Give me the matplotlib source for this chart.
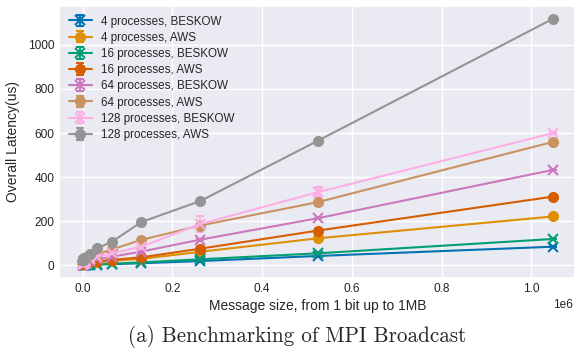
import numpy as np
import matplotlib
matplotlib.use("Agg")
import matplotlib.pyplot as plt
import seaborn as sns

# message sizes 1 .. 1048576 (powers of two)
sizes = [2 ** i for i in range(21)]

labels = ["4 processes, BESKOW", "4 processes, AWS",
          "16 processes, BESKOW", "16 processes, AWS",
          "64 processes, BESKOW", "64 processes, AWS",
          "128 processes, BESKOW", "128 processes, AWS"]
markers = ["x", "o", "x", "o", "x", "o", "x", "o"]

beskow_4 = [1, 1, 1, 1, 1, 1, 1, 1.5, 1.5, 1.5, 2, 2, 2, 2.5, 3, 4, 6, 10, 20, 43, 85]
aws_4 = [5, 5, 5, 5, 5, 5, 5.5, 5.5, 6, 6, 6.5, 7, 8, 9, 11, 15, 21, 30, 62, 123, 222]
beskow_16 = [2, 2, 2, 2, 2, 2, 2, 2, 2.5, 2.5, 2.5, 3, 3, 4, 5, 6, 8, 14, 28, 55, 120]
aws_16 = [8, 8, 8, 8, 8, 8, 8.5, 8.5, 9, 9, 9.5, 10, 11, 12, 14, 18, 25, 37, 76, 158, 312]
beskow_64 = [4, 4, 4, 4, 4, 4, 4.5, 4.5, 5, 5, 5.5, 6, 8, 12, 20, 28, 40, 63, 117, 214, 433]
aws_64 = [15, 15, 15, 15, 15, 15, 16, 16, 16, 17, 17, 18, 20, 25, 35, 51, 73, 116, 181, 287, 560]
beskow_128 = [6, 6, 6, 6, 6, 6, 6.5, 7, 7, 8, 8, 9, 12, 18, 30, 40, 55, 85, 188, 332, 600]
aws_128 = [25, 25, 25, 26, 26, 26, 27, 27, 28, 29, 30, 32, 35, 40, 50, 78, 108, 197, 292, 565, 1118]

err_small = [1] * 21
err_beskow_128 = [1] * 17 + [4, 37, 23, 5]

series = [beskow_4, aws_4, beskow_16, aws_16, beskow_64, aws_64, beskow_128, aws_128]
errors = [err_small] * 6 + [err_beskow_128, err_small]

sns.set_theme(style="darkgrid", palette="colorblind")
plt.rcParams["font.family"] = ["Liberation Sans", "DejaVu Sans"]

fig = plt.figure(figsize=(5.74, 3.52), dpi=100)
ax = fig.add_axes([59.2 / 574, 1 - 277.8 / 352, 517.3 / 574, 271.6 / 352])

colors = sns.color_palette("colorblind")
for i, (vals, err) in enumerate(zip(series, errors)):
    ax.errorbar(sizes, vals, yerr=err, label=labels[i], color=colors[i],
                marker=markers[i], markersize=6.5, markeredgewidth=1.5,
                linewidth=1.5, capsize=3)

ax.tick_params(labelsize=8.6, length=0, pad=3.5)
offset = ax.xaxis.get_offset_text()
offset.set_fontsize(8.6)
offset.set_x(0.9935)  # keep the 1e6 multiplier inside the figure
ax.set_xlabel("Message size, from 1 bit up to 1MB", fontsize=10, va="center")
ax.set_ylabel("Overall Latency(us)", fontsize=10, va="center")
ax.xaxis.set_label_coords(0.5, -0.104)
ax.yaxis.set_label_coords(-0.089, 0.5)
ax.set_yticks([0, 200, 400, 600, 800, 1000])
ax.legend(loc="upper left", fontsize=8.4, frameon=False, labelspacing=0.36,
          borderaxespad=0.4)

fig.text(0.517, 1 - 336 / 352, "(a) Benchmarking of MPI Broadcast",
         family="cmr10", fontsize=15.2, ha="center", va="center")

fig.savefig("out.png", dpi=100)
